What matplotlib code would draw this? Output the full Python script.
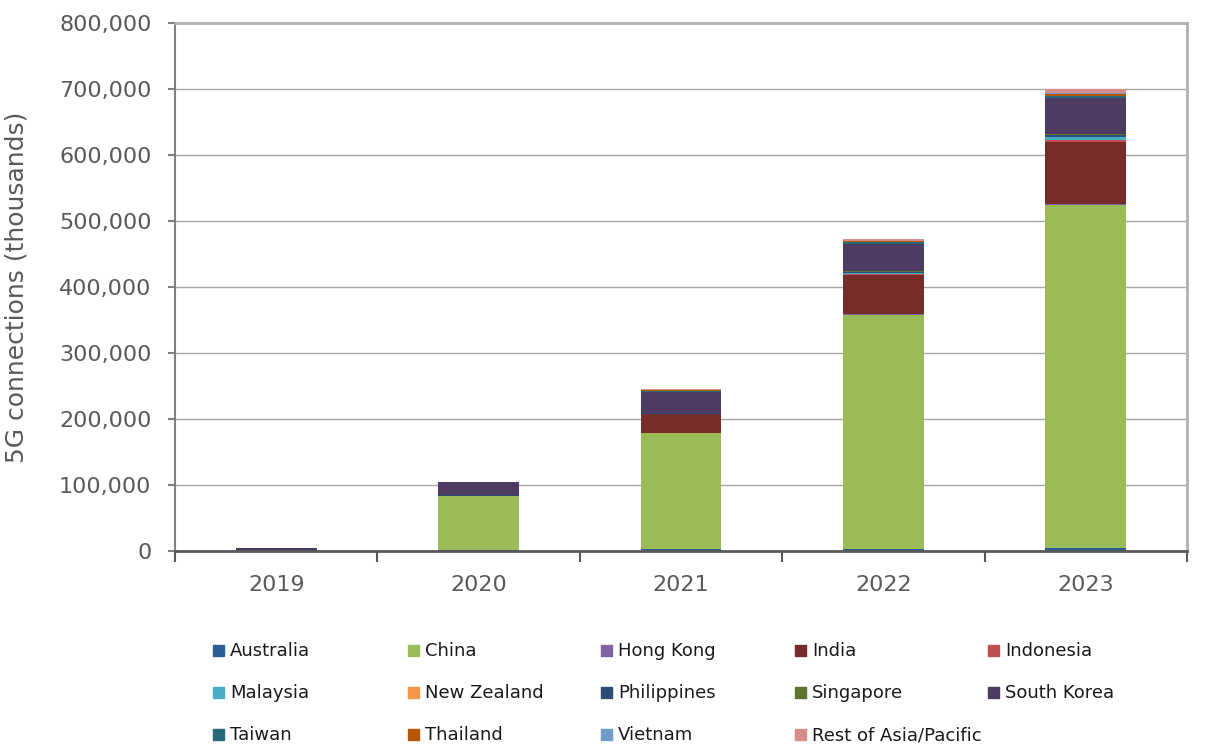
import matplotlib
matplotlib.use('Agg')
import matplotlib.pyplot as plt
import numpy as np
from matplotlib.patches import Rectangle

years = ["2019", "2020", "2021", "2022", "2023"]
countries = ["Australia", "China", "Hong Kong", "India", "Indonesia",
             "Malaysia", "New Zealand", "Philippines", "Singapore", "South Korea",
             "Taiwan", "Thailand", "Vietnam", "Rest of Asia/Pacific"]

# 5G connections (thousands)
australia = [500, 1500, 2500, 3500, 5000]
china = [0, 82000, 176000, 354000, 519000]
hong_kong = [0, 300, 600, 1000, 1200]
india = [0, 0, 28500, 60000, 94500]
indonesia = [0, 0, 300, 1200, 3000]
malaysia = [0, 0, 200, 1500, 4000]
new_zealand = [0, 100, 200, 400, 700]
philippines = [0, 200, 500, 1200, 2500]
singapore = [0, 100, 400, 1000, 2000]
south_korea = [3500, 20000, 32000, 41500, 54500]
taiwan = [0, 400, 1500, 2200, 3000]
thailand = [0, 200, 900, 1800, 3000]
vietnam = [0, 0, 100, 600, 1500]
rest = [0, 300, 1000, 3000, 6000]

series = [australia, china, hong_kong, india, indonesia, malaysia, new_zealand,
          philippines, singapore, south_korea, taiwan, thailand, vietnam, rest]
colors = ['#2A5F96', '#9BBB59', '#8064A2', '#772C2A', '#C0504D',
          '#4BACC6', '#F79646', '#2C4D75', '#5F7530', '#4D3B62',
          '#276A7C', '#B65708', '#729ACA', '#D98C8C']

W, H = 1208, 754
fig = plt.figure(figsize=(W / 100, H / 100), dpi=100)
ax = fig.add_axes([175 / W, 1 - 551 / H, (1187 - 175) / W, (551 - 23) / H])

x = np.arange(len(years))
bottom = np.zeros(len(years))
for vals, c in zip(series, colors):
    ax.bar(x, vals, 0.4, bottom=bottom, color=c, zorder=3)
    bottom += np.array(vals)

ax.set_xlim(-0.5, len(years) - 0.5)
ax.set_ylim(0, 800000)
ax.set_yticks(np.arange(0, 800001, 100000))
ax.set_yticklabels([f"{v:,}" for v in range(0, 800001, 100000)])
ax.yaxis.grid(True, color='#A6A6A6', linewidth=1, zorder=0)

# category labels between boundary ticks
ax.set_xticks(np.arange(-0.5, len(years), 1.0))
ax.set_xticklabels([])
ax.set_xticks(x, minor=True)
ax.set_xticklabels(years, minor=True)
ax.tick_params(axis='x', which='minor', length=0, pad=17, labelsize=16, labelcolor='#595959')
ax.tick_params(axis='x', which='major', length=8, width=1.5, color='#595959', direction='out')
ax.tick_params(axis='y', length=5, width=1.5, color='#808080', labelsize=16,
               labelcolor='#595959', pad=12)

for s in ['top', 'right']:
    ax.spines[s].set_color('#B0B0B0')
    ax.spines[s].set_linewidth(2)
ax.spines['left'].set_color('#808080')
ax.spines['left'].set_linewidth(1.5)
ax.spines['bottom'].set_color('#595959')
ax.spines['bottom'].set_linewidth(2)
ax.spines['bottom'].set_zorder(4)

ax.set_ylabel("5G connections (thousands)", fontsize=18, color='#595959', labelpad=22)

# legend, 5 columns laid out row by row
col_x = [213, 408, 601, 795, 988]
row_y = [651, 693, 735]
for i, (name, c) in enumerate(zip(countries, colors)):
    r, k = divmod(i, 5)
    px, py = col_x[k], row_y[r]
    fig.patches.append(Rectangle((px / W, 1 - (py + 5) / H), 11 / W, 11 / H,
                                 transform=fig.transFigure, facecolor=c,
                                 edgecolor=c, figure=fig))
    fig.text((px + 17) / W, 1 - py / H, name, fontsize=13, color='#1a1a1a',
             va='center', ha='left')

fig.savefig("out.png", dpi=100)
